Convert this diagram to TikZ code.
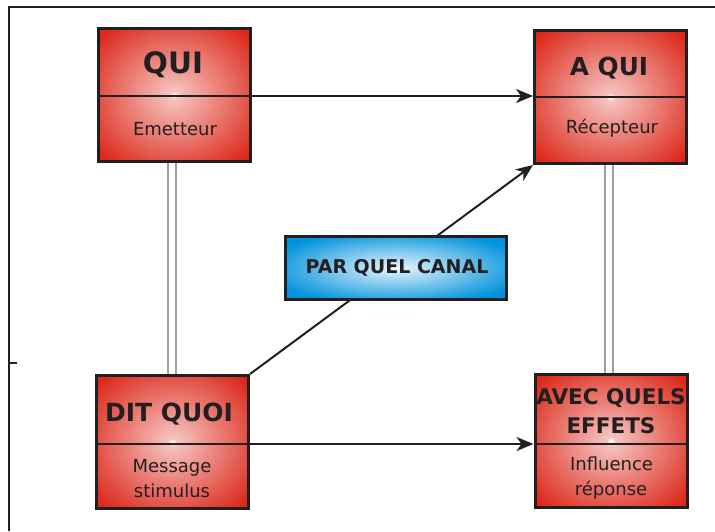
\documentclass[tikz,border=0pt]{standalone}
\usepackage{fontspec}
\setmainfont{DejaVu Sans}
\usetikzlibrary{arrows.meta}
\definecolor{boxred}{RGB}{220,40,26}
\definecolor{boxblue}{RGB}{0,146,220}
\definecolor{ink}{RGB}{35,31,32}
\definecolor{pipegray}{RGB}{160,160,160}
\pgfdeclareradialshading{redglow}{\pgfpoint{0bp}{0bp}}{color(0bp)=(white); color(1.5bp)=(white!72!boxred); color(33bp)=(boxred); color(50bp)=(boxred)}
\pgfdeclareradialshading{blueglow}{\pgfpoint{0bp}{0bp}}{color(0bp)=(white); color(2bp)=(white!85!boxblue); color(30bp)=(boxblue); color(50bp)=(boxblue)}
\begin{document}
\begin{tikzpicture}[x=1pt,y=-1pt,
  redbox/.style={draw=ink, line width=3pt, shade, shading=redglow, minimum width=152pt, minimum height=133pt, inner sep=0pt},
  bluebox/.style={draw=ink, line width=3pt, shade, shading=blueglow, minimum width=221pt, minimum height=63pt, inner sep=0pt},
  title/.style={font=\bfseries\fontsize{27}{27}\selectfont, text=ink, anchor=base, inner sep=0pt},
  sub/.style={font=\fontsize{18}{18}\selectfont, text=ink, anchor=base, inner sep=0pt},
  divider/.style={draw=ink, line width=2pt},
  arrowline/.style={draw=ink, line width=2pt, -{Stealth[length=17pt,width=14pt,inset=5pt]}},
  pipe/.style={draw=pipegray, line width=2.3pt, double=white, double distance=5.5pt},
  frameline/.style={draw=ink, line width=1.5pt}]
\useasboundingbox (0,0) rectangle (715,531);
% frame
\draw[frameline] (9,531) -- (9,7) -- (715,7);
\draw[frameline] (9,363) -- (17,363);
% boxes
\node[redbox] (qui) at (174,95) {};
\node[redbox] (aqui) at (610.5,97) {};
\node[redbox] (dit) at (172.5,442) {};
\node[redbox] (avec) at (611,441) {};
% dividers
\draw[divider] (qui.west |- 0,96) -- (qui.east |- 0,96);
\draw[divider] (aqui.west |- 0,97) -- (aqui.east |- 0,97);
\draw[divider] (dit.west |- 0,444) -- (dit.east |- 0,444);
\draw[divider] (avec.west |- 0,444) -- (avec.east |- 0,444);
% texts
\node[title, font=\bfseries\fontsize{29.5}{29.5}\selectfont] (quiT) at (173,73) {QUI};
\node[sub] (quiS) at (175,135) {Emetteur};
\node[title, font=\bfseries\fontsize{24.8}{24.8}\selectfont] (aquiT) at (609,75) {A QUI};
\node[sub] (aquiS) at (612,133) {Récepteur};
\node[title, font=\bfseries\fontsize{25}{25}\selectfont] (ditT) at (169,421) {DIT QUOI};
\node[sub] (ditS1) at (172,472) {Message};
\node[sub] (ditS2) at (172,497) {stimulus};
\node[title, font=\bfseries\fontsize{21.5}{21.5}\selectfont] (avecT1) at (611,404) {AVEC QUELS};
\node[title, font=\bfseries\fontsize{21.5}{21.5}\selectfont] (avecT2) at (611,433) {EFFETS};
\node[sub] (avecS1) at (611.5,470) {Influence};
\node[sub] (avecS2) at (611,495) {réponse};
% connectors
\draw[arrowline] (qui.east |- 0,96) -- (aqui.west |- 0,96);
\draw[arrowline] (dit.east |- 0,444) -- (avec.west |- 0,444);
\draw[pipe] (dit.north -| 172,0) -- (qui.south -| 172,0);
\draw[pipe] (avec.north -| 609,0) -- (aqui.south -| 609,0);
\draw[arrowline] (dit.north east) -- (aqui.south west);
% channel
\node[bluebox] (canal) at (396,268) {};
\node[title, font=\bfseries\fontsize{19}{19}\selectfont] (canalT) at (397,273) {PAR QUEL CANAL};
\end{tikzpicture}
\end{document}
